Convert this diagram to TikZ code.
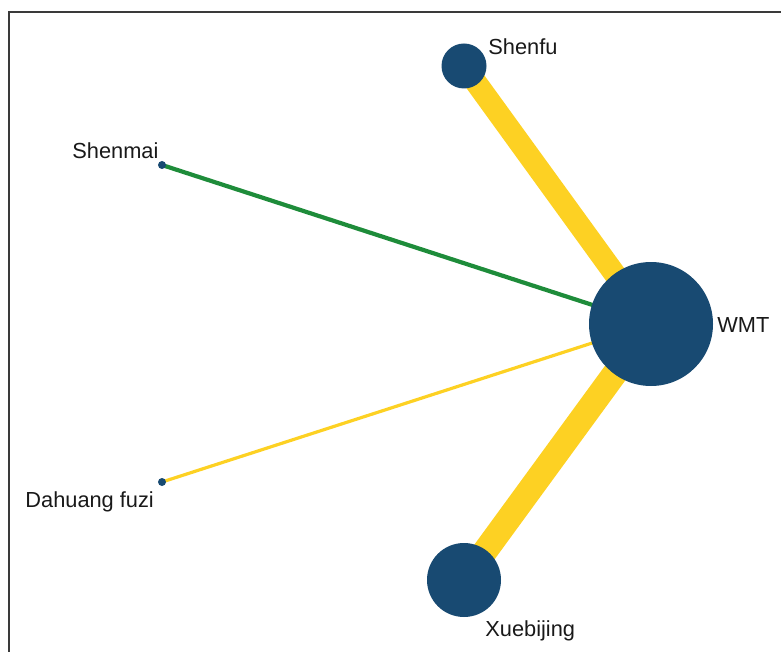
\documentclass[tikz,border=0pt]{standalone}
\usepackage{fontspec}
\setmainfont{Liberation Sans}
\usetikzlibrary{backgrounds}
\definecolor{nodeblue}{HTML}{184A72}
\definecolor{edgeyellow}{HTML}{FDD123}
\definecolor{edgegreen}{HTML}{1E8C3A}
\definecolor{framegray}{HTML}{3A3A3A}
\begin{document}
\begin{tikzpicture}[x=0.5pt,y=-0.5pt,
  treat/.style={circle,fill=nodeblue,inner sep=0pt,outer sep=0pt},
  lbl/.style={anchor=base west,inner sep=0pt,font=\fontsize{10.9}{13}\selectfont,text=black!90},
  link/.style={line cap=butt}]
\useasboundingbox (0,0) rectangle (781,652);
% frame (top and left sides)
\draw[framegray,line width=1pt] (9,652) -- (9,12.5) -- (781,12.5);
% treatments
\node[treat,minimum size=62pt]   (wmt)     at (651,324) {};
\node[treat,minimum size=22.5pt] (shenfu)  at (464,66)  {};
\node[treat,minimum size=37pt]   (xuebij)  at (464,580) {};
\node[treat,minimum size=4pt]    (shenmai) at (162,165) {};
\node[treat,minimum size=4pt]    (dahuang) at (162,482) {};
% comparisons
\begin{scope}[on background layer]
  \draw[link,edgeyellow,line width=11pt]   (shenfu.center)  -- (wmt.center);
  \draw[link,edgeyellow,line width=12.5pt] (xuebij.center)  -- (wmt.center);
  \draw[link,edgegreen,line width=2.1pt]   (shenmai.center) -- (wmt.center);
  \draw[link,edgeyellow,line width=1.6pt]  (dahuang.center) -- (wmt.center);
\end{scope}
% labels
\node[lbl] (lshenfu)  at (488,55)  {Shenfu};
\node[lbl] (lwmt)     at (717,332) {WMT};
\node[lbl] (lshenmai) at (72,159)  {Shenmai};
\node[lbl] (ldahuang) at (25,507)  {Dahuang fuzi};
\node[lbl] (lxuebij)  at (485,636) {Xuebijing};
\end{tikzpicture}
\end{document}
